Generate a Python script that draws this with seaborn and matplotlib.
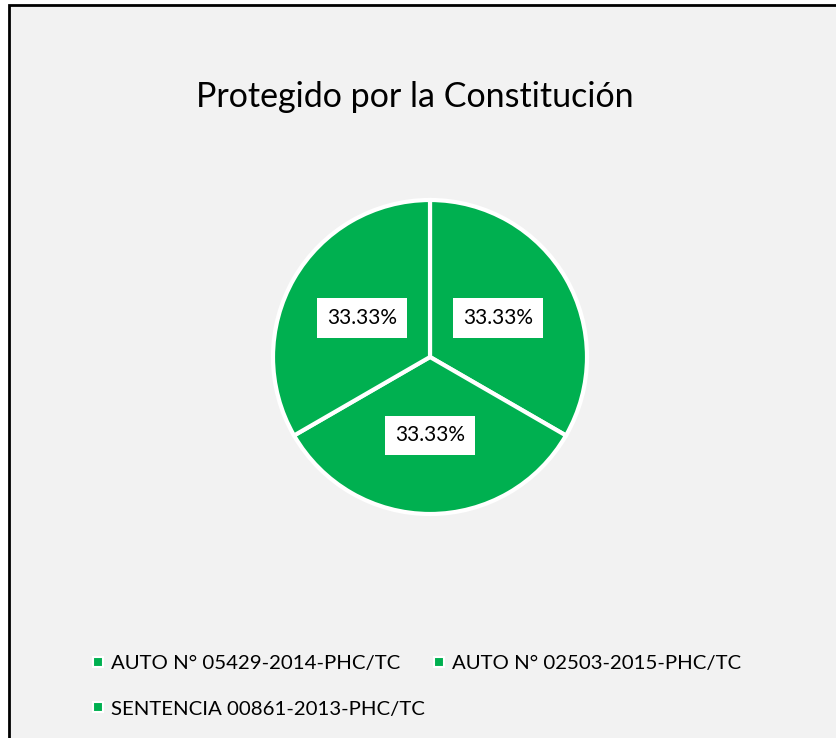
import matplotlib
matplotlib.use("Agg")
import matplotlib.pyplot as plt
from matplotlib.patches import Rectangle
from matplotlib.lines import Line2D
import seaborn as sns

# --- Data ---
title = "Protegido por la Constitución"
labels = ["AUTO N° 05429-2014-PHC/TC", "AUTO N° 02503-2015-PHC/TC", "SENTENCIA 00861-2013-PHC/TC"]
values = [1, 1, 1]
green = "#00b050"

sns.set_style("white")
plt.rcParams['font.family'] = ['Lato', 'DejaVu Sans']
plt.rcParams['text.color'] = 'black'

fig = plt.figure(figsize=(8.36, 7.38), dpi=100, facecolor="white")

# chart area background with border on left/top
fig.patches.append(Rectangle((8.5 / 836, -0.1), 1.2, 1.1 - 5.5 / 738,
                             transform=fig.transFigure, facecolor="#f2f2f2",
                             edgecolor="black", linewidth=2, zorder=-5))

ax = fig.add_axes([273 / 836, 1 - 514 / 738, 314 / 836, 314 / 738])
ax.set_zorder(2)
ax.set_facecolor("white")
wedges, texts, autotexts = ax.pie(
    values, colors=[green] * len(values), startangle=90, counterclock=False,
    autopct="%.2f%%", pctdistance=0.5, radius=1.0,
    wedgeprops=dict(edgecolor="white", linewidth=3),
    textprops=dict(fontsize=15, color="black"))
for t in autotexts:
    t.set_bbox(dict(facecolor="white", edgecolor="none", pad=7))
ax.set_xlim(-1.0, 1.0)
ax.set_ylim(-1.0, 1.0)
ax.set_aspect("equal")
for s in ax.spines.values():
    s.set_visible(False)

fig.text(415 / 836, 1 - 97 / 738, title, ha="center", va="center", fontsize=24.5, color="black")

handles = [Line2D([], [], linestyle="none", marker="s", markersize=7,
                  markerfacecolor=green, markeredgecolor="white", markeredgewidth=1.5)
           for _ in labels]
order = [0, 2, 1]
leg = fig.legend([handles[i] for i in order], [labels[i] for i in order], ncol=2,
                 loc="upper left", bbox_to_anchor=(73 / 836, 1 - 636 / 738),
                 frameon=False, fontsize=14.7, handlelength=0.6, handletextpad=0.35,
                 columnspacing=0.4, labelspacing=1.4)
for t in leg.get_texts():
    t.set_color("black")

fig.savefig("out.png", dpi=100, facecolor="white")
